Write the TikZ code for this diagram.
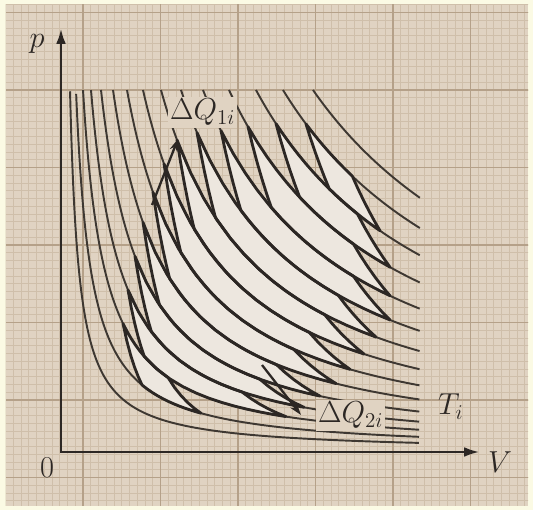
\documentclass[tikz,border=0pt]{standalone}
\usetikzlibrary{arrows.meta}
\definecolor{rim}{HTML}{FBFAE4}
\definecolor{paper}{HTML}{E0D3C2}
\definecolor{gmin}{HTML}{CFBFAA}
\definecolor{gmaj}{HTML}{B5A189}
\definecolor{cellfill}{HTML}{EDE7DF}
\definecolor{ink}{HTML}{2C2724}
\definecolor{isoink}{HTML}{3E3832}
\tikzset{
  minorgrid/.style={draw=gmin, line width=0.3pt, step=0.0775},
  majorgrid/.style={draw=gmaj, line width=0.7pt, step=0.775},
  iso/.style={draw=isoink, line width=1.1pt},
  cellbg/.style={fill=cellfill},
  celledge/.style={draw=ink, line width=1.6pt, line join=round},
  axis/.style={draw=ink, line width=1.7pt, {Latex[length=9pt,width=5.5pt]}-{Latex[length=9pt,width=5.5pt]}},
  heat/.style={draw=ink, line width=1.3pt, -{Stealth[length=7pt,width=4.5pt]}},
  lbl/.style={font=\fontsize{18}{20}\selectfont, text=ink, inner sep=1pt}}
% one small Carnot cycle: #1 style, #2 lower isotherm, #3 upper isotherm,
% #4 V of the upper-left corner, #5 V of the lower-right corner
\newcommand{\carnotcell}[5]{%
  \pgfmathsetmacro{\cfk}{pow(#3/#2,0.7)}%
  \pgfmathsetmacro{\cva}{#4*\cfk}%
  \pgfmathsetmacro{\cvc}{#5/\cfk}%
  \path[#1]
    plot[variable=\t, domain=0:1, samples=12] ({\cva+(#5-\cva)*\t}, {#2/(\cva+(#5-\cva)*\t)})
    -- plot[variable=\t, domain=0:1, samples=6] ({#5+(\cvc-#5)*\t}, {#2/#5*pow(#5/(#5+(\cvc-#5)*\t),2.4286)})
    -- plot[variable=\t, domain=0:1, samples=12] ({\cvc+(#4-\cvc)*\t}, {#3/(\cvc+(#4-\cvc)*\t)})
    -- plot[variable=\t, domain=0:1, samples=6] ({#4+(\cva-#4)*\t}, {#3/#4*pow(#4/(#4+(\cva-#4)*\t),2.4286)})
    -- cycle;}
\newcommand{\cells}{0.543/0.7964/0.62/1.40, 0.7964/1.086/0.67/2.25, 1.086/1.448/0.74/2.43,
  1.448/1.8824/0.82/2.59, 1.8824/2.3892/0.92/2.75, 2.3892/2.9684/1.03/2.89,
  2.9684/3.62/1.16/3.03, 3.62/4.344/1.36/3.15, 4.344/5.1404/1.60/3.29,
  5.1404/6.0816/1.87/3.29, 6.0816/7.059/2.15/3.29, 7.059/8.0364/2.45/3.19}

\begin{document}
\begin{tikzpicture}[x=2cm, y=2cm]
% paper and grid
\fill[rim] (-0.61,-0.58) rectangle (4.72,4.52);
\fill[paper] (-0.55,-0.54) rectangle (4.67,4.47);
\begin{scope}
  \clip (-0.55,-0.54) rectangle (4.67,4.47);
  \begin{scope}[shift={(0.22,-0.255)}]
    \draw[minorgrid] (-1,-1) grid (5,5);
    \draw[majorgrid] (-1,-1) grid (5,5);
  \end{scope}
\end{scope}

% Carnot cycles, filled
\foreach \tlo/\thi/\vleft/\vright in \cells {\carnotcell{cellbg}{\tlo}{\thi}{\vleft}{\vright}}

% isotherms pV = const
\foreach \ck in {0.3258,0.543,0.7964,1.086,1.448,1.8824,2.3892,2.9684,3.62,4.344,5.1404,6.0816,7.059,8.0364,9.1224} {
  \pgfmathsetmacro{\lna}{ln(\ck/3.62)}
  \pgfmathsetmacro{\lnd}{ln(3.59)-ln(\ck/3.62)}
  \draw[iso] plot[variable=\t, domain=0:1, samples=70, smooth] ({exp(\lna+\lnd*\t)}, {\ck/exp(\lna+\lnd*\t)});
}

% Carnot cycles, outlines
\foreach \tlo/\thi/\vleft/\vright in \cells {\carnotcell{celledge}{\tlo}{\thi}{\vleft}{\vright}}

% heat arrows
\coordinate (q1tail) at (0.91,2.47);
\coordinate (q1tip) at (1.17,3.13);
\coordinate (q2tail) at (2.01,0.87);
\coordinate (q2tip) at (2.40,0.37);
\draw[heat] (q1tail) -- (q1tip);
\draw[heat] (q2tail) -- (q2tip);

% axes
\coordinate (o) at (0,0);
\coordinate (ptop) at (0,4.24);
\coordinate (vend) at (4.19,0);
\draw[axis] (ptop) -- (o) -- (vend);

% labels
\node[lbl, anchor=base] (plbl) at (-0.24,4.04) {$p$};
\node[lbl, anchor=base] (vlbl) at (4.39,-0.21) {$V$};
\node[lbl, anchor=base] (olbl) at (-0.14,-0.26) {$0$};
\node[lbl, fill=paper, anchor=base west] (q1lbl) at (1.07,3.32) {$\Delta Q_{1i}$};
\node[lbl, fill=paper, anchor=base west] (q2lbl) at (2.55,0.29) {$\Delta Q_{2i}$};
\node[lbl, anchor=base west] (tlbl) at (3.75,0.37) {$T_i$};
\end{tikzpicture}
\end{document}
